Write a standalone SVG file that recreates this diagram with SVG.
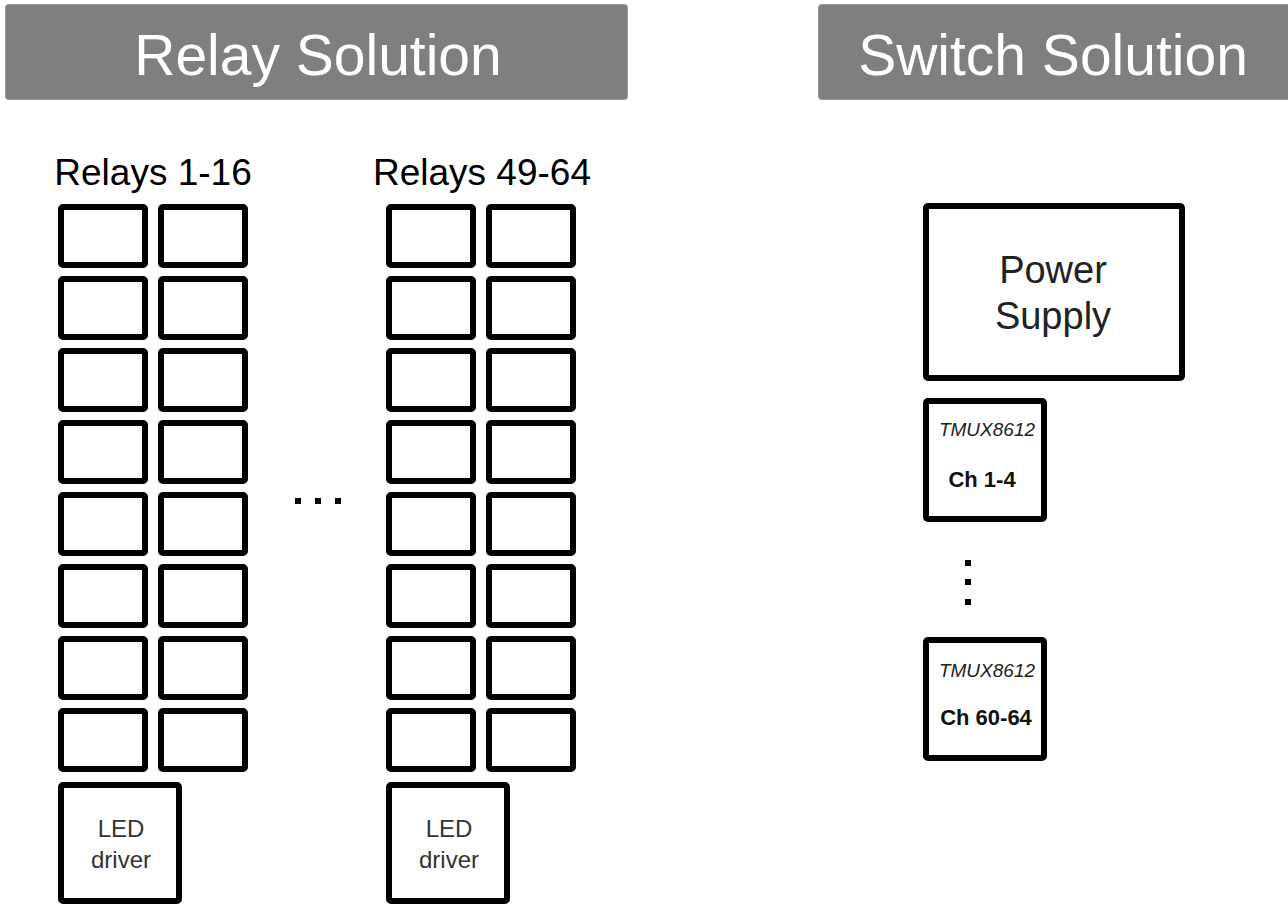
<svg xmlns="http://www.w3.org/2000/svg" width="1288" height="906" viewBox="0 0 1288 906">
<style>
.hdr{fill:#7f7f7f;stroke:#9a9a9a;stroke-width:1}
.ht{font-family:"Liberation Sans",Arial,sans-serif;font-size:57px;fill:#ffffff;text-anchor:middle}
.box{fill:#ffffff;stroke:#000000;stroke-width:6;stroke-linejoin:round}
.lbl{font-family:"Liberation Sans",Arial,sans-serif;font-size:37px;fill:#000000;text-anchor:middle}
.led{font-family:"Liberation Sans",Arial,sans-serif;font-size:24px;fill:#333333;text-anchor:middle}
.ps{font-family:"Liberation Sans",Arial,sans-serif;font-size:38px;fill:#222222;text-anchor:middle}
.tm{font-family:"Liberation Sans",Arial,sans-serif;font-size:19px;font-style:italic;fill:#222222;text-anchor:middle}
.ch{font-family:"Liberation Sans",Arial,sans-serif;font-size:22px;font-weight:bold;fill:#111111;text-anchor:middle}
.dot{fill:#000000}
</style>
<defs>
<g id="pair">
<rect class="box" x="61" y="0" width="84" height="58" rx="2"/>
<rect class="box" x="161" y="0" width="84" height="58" rx="2"/>
</g>
</defs>
<g id="header-relay">
<rect class="hdr" x="5.5" y="4.5" width="622" height="95" rx="3"/>
<text class="ht" x="318" y="75">Relay Solution</text>
</g>
<g id="header-switch">
<rect class="hdr" x="818.5" y="4.5" width="474" height="95" rx="3"/>
<text class="ht" x="1053" y="75">Switch Solution</text>
</g>
<g id="relays-1-16">
<text class="lbl" x="153" y="185">Relays 1-16</text>
<use href="#pair" y="207"/>
<use href="#pair" y="279"/>
<use href="#pair" y="351"/>
<use href="#pair" y="423"/>
<use href="#pair" y="495"/>
<use href="#pair" y="567"/>
<use href="#pair" y="639"/>
<use href="#pair" y="711"/>
</g>
<g id="led-driver-1">
<rect class="box" x="61" y="785" width="118" height="116" rx="2"/>
<text class="led" x="121" y="837">LED</text>
<text class="led" x="121" y="868">driver</text>
</g>
<g id="ellipsis-h">
<rect class="dot" x="295" y="498" width="6" height="6"/>
<rect class="dot" x="315" y="498" width="6" height="6"/>
<rect class="dot" x="335" y="498" width="6" height="6"/>
</g>
<g id="relays-49-64">
<text class="lbl" x="482" y="185">Relays 49-64</text>
<use href="#pair" x="328" y="207"/>
<use href="#pair" x="328" y="279"/>
<use href="#pair" x="328" y="351"/>
<use href="#pair" x="328" y="423"/>
<use href="#pair" x="328" y="495"/>
<use href="#pair" x="328" y="567"/>
<use href="#pair" x="328" y="639"/>
<use href="#pair" x="328" y="711"/>
</g>
<g id="led-driver-2">
<rect class="box" x="389" y="785" width="118" height="116" rx="2"/>
<text class="led" x="449" y="837">LED</text>
<text class="led" x="449" y="868">driver</text>
</g>
<g id="power-supply">
<rect class="box" x="926" y="206" width="256" height="172" rx="2"/>
<text class="ps" x="1053" y="283">Power</text>
<text class="ps" x="1053" y="329">Supply</text>
</g>
<g id="tmux-1">
<rect class="box" x="926" y="401" width="118" height="118" rx="2"/>
<text class="tm" x="987" y="436">TMUX8612</text>
<text class="ch" x="982" y="487">Ch 1-4</text>
</g>
<g id="ellipsis-v">
<rect class="dot" x="965" y="560" width="6" height="6"/>
<rect class="dot" x="965" y="579" width="6" height="6"/>
<rect class="dot" x="965" y="599" width="6" height="6"/>
</g>
<g id="tmux-2">
<rect class="box" x="926" y="640" width="118" height="118" rx="2"/>
<text class="tm" x="987" y="677">TMUX8612</text>
<text class="ch" x="986" y="725">Ch 60-64</text>
</g>
<g id="connectors"></g>
</svg>
